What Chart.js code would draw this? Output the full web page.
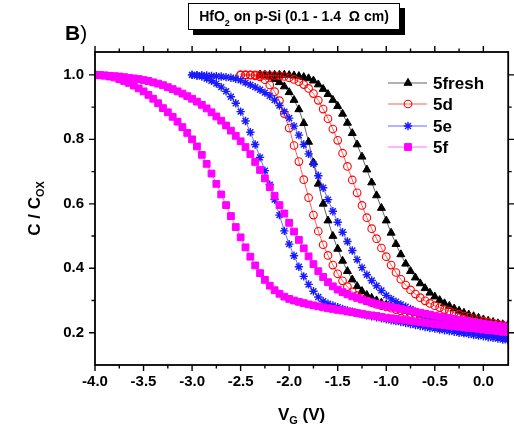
<!DOCTYPE html>
<html><head><meta charset="utf-8">
<script src="https://cdn.jsdelivr.net/npm/chart.js@4"></script>
<style>html,body{margin:0;padding:0;background:#fff}#wrap{width:514px;height:429px;position:relative}</style>
</head><body><div id="wrap"><canvas id="cv"></canvas></div>
<script>
// gate voltage grid (V), 0.05 V steps
const VG = [-4.00,-3.95,-3.90,-3.85,-3.80,-3.75,-3.70,-3.65,-3.60,-3.55,
  -3.50,-3.45,-3.40,-3.35,-3.30,-3.25,-3.20,-3.15,-3.10,-3.05,
  -3.00,-2.95,-2.90,-2.85,-2.80,-2.75,-2.70,-2.65,-2.60,-2.55,
  -2.50,-2.45,-2.40,-2.35,-2.30,-2.25,-2.20,-2.15,-2.10,-2.05,
  -2.00,-1.95,-1.90,-1.85,-1.80,-1.75,-1.70,-1.65,-1.60,-1.55,
  -1.50,-1.45,-1.40,-1.35,-1.30,-1.25,-1.20,-1.15,-1.10,-1.05,
  -1.00,-0.95,-0.90,-0.85,-0.80,-0.75,-0.70,-0.65,-0.60,-0.55,
  -0.50,-0.45,-0.40,-0.35,-0.30,-0.25,-0.20,-0.15,-0.10,-0.05,
  0.00,0.05,0.10,0.15,0.20,0.25];

// C/Cox, left and right branch of each sweep; each list ends at +0.25 V
const fresh_L = [1.000,0.998,0.994,0.987,0.977,0.964,0.946,0.922,0.893,0.850,
  0.792,0.728,0.662,0.600,0.548,0.500,0.460,0.423,0.391,0.365,
  0.344,0.329,0.317,0.308,0.300,0.293,0.287,0.282,0.277,0.272,
  0.268,0.264,0.260,0.256,0.253,0.250,0.247,0.244,0.241,0.238,
  0.235,0.233,0.230,0.228,0.225,0.223,0.221,0.219,0.217,0.215,0.213,0.211];
const fresh_R = [1.000,1.000,1.000,1.000,1.000,1.000,0.999,0.998,0.996,0.993,
  0.989,0.982,0.970,0.956,0.940,0.922,0.903,0.879,0.851,0.819,
  0.784,0.746,0.706,0.666,0.626,0.587,0.548,0.510,0.475,0.443,
  0.414,0.391,0.371,0.353,0.338,0.324,0.312,0.301,0.291,0.283,
  0.275,0.268,0.262,0.256,0.251,0.246,0.241,0.237,0.233,0.229,0.226,0.223];

const d_L = [1.000,1.000,0.999,0.997,0.994,0.985,0.969,0.948,0.920,0.880,
  0.835,0.781,0.731,0.675,0.619,0.565,0.515,0.473,0.440,0.410,
  0.383,0.361,0.343,0.327,0.315,0.306,0.299,0.293,0.288,0.284,
  0.280,0.276,0.272,0.268,0.264,0.260,0.257,0.253,0.250,0.247,
  0.244,0.241,0.238,0.235,0.232,0.230,0.227,0.225,0.222,0.220,
  0.218,0.215,0.213,0.211,0.209,0.207];
const d_R = [1.000,1.000,1.000,1.000,0.999,0.999,0.998,0.998,0.997,0.995,
  0.991,0.986,0.979,0.970,0.958,0.942,0.921,0.894,0.864,0.832,
  0.797,0.757,0.716,0.674,0.634,0.595,0.557,0.523,0.492,0.463,
  0.436,0.410,0.387,0.366,0.348,0.333,0.320,0.309,0.299,0.291,
  0.284,0.278,0.272,0.267,0.262,0.257,0.252,0.248,0.244,0.240,
  0.236,0.233,0.230,0.227,0.224,0.221];

const e_L = [1.000,0.998,0.995,0.989,0.982,0.973,0.962,0.949,0.932,0.912,
  0.886,0.857,0.822,0.784,0.744,0.703,0.659,0.613,0.565,0.516,
  0.475,0.439,0.405,0.375,0.350,0.329,0.311,0.298,0.290,0.285,
  0.279,0.274,0.269,0.265,0.261,0.257,0.254,0.251,0.248,0.245,
  0.242,0.239,0.236,0.233,0.230,0.227,0.224,0.221,0.218,0.215,
  0.213,0.210,0.208,0.205,0.203,0.200,0.198,0.196,0.193,0.191,
  0.189,0.186,0.184,0.182,0.179,0.177];
const e_R = [1.000,0.999,0.999,0.998,0.997,0.996,0.995,0.993,0.991,0.988,
  0.983,0.976,0.969,0.962,0.954,0.945,0.935,0.922,0.905,0.886,
  0.866,0.841,0.813,0.784,0.755,0.724,0.687,0.650,0.613,0.577,
  0.543,0.512,0.483,0.455,0.427,0.402,0.380,0.362,0.346,0.331,
  0.316,0.305,0.296,0.288,0.281,0.274,0.266,0.260,0.254,0.248,
  0.243,0.238,0.233,0.228,0.223,0.218,0.214,0.210,0.207,0.204,
  0.200,0.197,0.194,0.191,0.188,0.185];

const f_L = [1.000,0.999,0.998,0.995,0.992,0.987,0.981,0.975,0.967,0.958,
  0.949,0.938,0.926,0.912,0.897,0.884,0.870,0.855,0.838,0.820,
  0.800,0.778,0.752,0.724,0.694,0.662,0.629,0.596,0.562,0.528,
  0.496,0.465,0.436,0.409,0.385,0.364,0.346,0.332,0.321,0.312,
  0.305,0.300,0.296,0.292,0.288,0.285,0.282,0.279,0.276,0.274,
  0.271,0.269,0.266,0.264,0.261,0.259,0.256,0.254,0.252,0.249,
  0.247,0.245,0.243,0.241,0.239,0.237,0.235,0.233,0.231,0.229,
  0.227,0.225,0.224,0.222,0.220,0.219,0.217,0.215,0.214,0.212,
  0.210,0.208,0.207,0.205,0.203,0.202];
const f_R = [1.000,0.999,0.998,0.997,0.996,0.995,0.993,0.991,0.989,0.987,
  0.984,0.981,0.977,0.973,0.968,0.962,0.956,0.949,0.942,0.934,
  0.926,0.917,0.907,0.896,0.884,0.871,0.858,0.843,0.827,0.811,
  0.794,0.776,0.754,0.730,0.705,0.679,0.652,0.625,0.596,0.570,
  0.541,0.514,0.488,0.462,0.437,0.413,0.391,0.373,0.357,0.344,
  0.334,0.326,0.319,0.313,0.308,0.303,0.298,0.294,0.290,0.286,
  0.283,0.280,0.277,0.274,0.271,0.268,0.265,0.262,0.259,0.256,
  0.253,0.250,0.248,0.245,0.243,0.240,0.238,0.235,0.233,0.231,
  0.228,0.226,0.224,0.222,0.220,0.218];

const NAMES = ['5fresh', '5d', '5e', '5f'];
const X_TICKS = [-4.0, -3.5, -3.0, -2.5, -2.0, -1.5, -1.0, -0.5, 0.0];
const X_MINOR = [-3.75, -3.25, -2.75, -2.25, -1.75, -1.25, -0.75, -0.25];
const Y_TICKS = [0.2, 0.4, 0.6, 0.8, 1.0];
const Y_MINOR = [0.3, 0.5, 0.7, 0.9];

const FONT = '"Liberation Sans", Arial, sans-serif';

function loop(L, R) {
  const xs = VG.slice(VG.length - L.length);
  const up = xs.map((x, i) => ({ x, y: L[i] }));
  const down = xs.map((x, i) => ({ x, y: R[i] })).reverse();
  return up.concat(down);
}

const STYLE = [
  { line: 'rgba(60,60,60,0.8)', bg: '#000', bd: '#000', ps: 'triangle', r: 4.6, bw: 1, order: 3 },
  { line: 'rgba(255,40,40,0.75)', bg: 'rgba(0,0,0,0)', bd: '#ff0000', ps: 'circle', r: 3.8, bw: 1.1, order: 2 },
  { line: 'rgba(40,40,255,0.7)', bg: '#1a1aff', bd: '#1a1aff', ps: 'star', r: 4.2, bw: 1.4, order: 1 },
  { line: 'rgba(255,60,255,0.75)', bg: '#ff00ff', bd: '#ff00ff', ps: 'rect', r: 4.8, bw: 1, order: 0 }
];
const LOOPS = [loop(fresh_L, fresh_R), loop(d_L, d_R), loop(e_L, e_R), loop(f_L, f_R)];

function mark(c, st, x, y) {
  const r = st.r;
  c.fillStyle = st.bg; c.strokeStyle = st.bd; c.lineWidth = st.bw;
  c.beginPath();
  if (st.ps === 'triangle') {
    c.moveTo(x, y - r); c.lineTo(x + r * 0.866, y + r * 0.5); c.lineTo(x - r * 0.866, y + r * 0.5); c.closePath();
    c.fill(); c.stroke();
  } else if (st.ps === 'circle') {
    c.arc(x, y, r, 0, Math.PI * 2); c.stroke();
  } else if (st.ps === 'star') {
    for (let k = 0; k < 4; k++) {
      const a = k * Math.PI / 4;
      c.moveTo(x - r * Math.cos(a), y - r * Math.sin(a)); c.lineTo(x + r * Math.cos(a), y + r * Math.sin(a));
    }
    c.stroke();
  } else {
    const s = r * Math.SQRT1_2;
    c.rect(x - s, y - s, 2 * s, 2 * s); c.fill(); c.stroke();
  }
}

function rich(c, parts, x, y, align) {
  let w = 0;
  parts.forEach(p => { c.font = p.f; w += c.measureText(p.t).width; });
  let cx = align === 'center' ? x - w / 2 : x;
  c.textAlign = 'left'; c.textBaseline = 'alphabetic';
  parts.forEach(p => { c.font = p.f; c.fillText(p.t, cx, y + (p.dy || 0)); cx += c.measureText(p.t).width; });
}

const deco = {
  id: 'deco',
  afterDraw(ch) {
    const c = ch.ctx, a = ch.chartArea, sx = ch.scales.x, sy = ch.scales.y;
    c.save();
    // frame + ticks (outward on all sides)
    c.strokeStyle = '#000'; c.lineWidth = 1.8;
    c.strokeRect(a.left, a.top, a.right - a.left, a.bottom - a.top);
    c.lineWidth = 1.4;
    c.beginPath();
    const xt = (v, len) => { const p = sx.getPixelForValue(v);
      c.moveTo(p, a.bottom); c.lineTo(p, a.bottom + len); c.moveTo(p, a.top); c.lineTo(p, a.top - len); };
    const yt = (v, len) => { const p = sy.getPixelForValue(v);
      c.moveTo(a.left, p); c.lineTo(a.left - len, p); c.moveTo(a.right, p); c.lineTo(a.right + len, p); };
    X_TICKS.forEach(v => xt(v, 6)); X_MINOR.forEach(v => xt(v, 3.5));
    Y_TICKS.forEach(v => yt(v, 6)); Y_MINOR.forEach(v => yt(v, 3.5));
    c.stroke();

    c.fillStyle = '#000';
    // axis titles
    const bf = 'bold 17px ' + FONT, sf = 'bold 11px ' + FONT;
    rich(c, [{ t: 'V', f: bf }, { t: 'G', f: sf, dy: 4 }, { t: ' (V)', f: bf }], (a.left + a.right) / 2, 420, 'center');
    c.save();
    c.translate(40, (a.top + a.bottom) / 2);
    c.rotate(-Math.PI / 2);
    rich(c, [{ t: 'C / C', f: bf }, { t: 'OX', f: sf, dy: 4 }], 0, 0, 'center');
    c.restore();

    // panel letter
    c.font = 'bold 21px ' + FONT; c.textAlign = 'left'; c.textBaseline = 'alphabetic';
    c.fillText('B', 65, 40);
    const bw = c.measureText('B').width;
    c.font = '21px ' + FONT; c.fillText(')', 65 + bw, 40);

    // title box with drop shadow
    c.fillStyle = '#000'; c.fillRect(193, 8, 212, 27);
    c.fillStyle = '#fff'; c.fillRect(188, 3, 212, 27);
    c.strokeStyle = '#000'; c.lineWidth = 1; c.strokeRect(188.5, 3.5, 211, 26);
    c.fillStyle = '#000';
    const tf = 'bold 14px ' + FONT, tsf = 'bold 9px ' + FONT;
    rich(c, [{ t: 'HfO', f: tf }, { t: '2', f: tsf, dy: 5 }, { t: ' on p-Si (0.1 - 1.4  \u03A9 cm)', f: tf }], 294, 21, 'center');

    // legend
    const rows = [83, 104, 126, 147];
    NAMES.forEach((n, i) => {
      const st = STYLE[i], y = rows[i];
      c.strokeStyle = st.line; c.lineWidth = 1.2;
      c.beginPath(); c.moveTo(388, y); c.lineTo(427, y); c.stroke();
      mark(c, st, 408, y);
      c.fillStyle = '#000'; c.font = 'bold 17px ' + FONT; c.textAlign = 'left'; c.textBaseline = 'middle';
      c.fillText(n, 433, y + 1);
    });
    c.restore();
  }
};

const tickFont = { family: FONT, size: 15, weight: 'bold' };

new Chart(document.getElementById('cv'), {
  type: 'scatter',
  plugins: [deco],
  data: {
    datasets: NAMES.map((n, i) => ({
      label: n,
      data: LOOPS[i],
      showLine: true,
      borderColor: STYLE[i].line,
      borderWidth: 1,
      tension: 0,
      fill: false,
      pointStyle: STYLE[i].ps,
      pointRadius: STYLE[i].r,
      pointBackgroundColor: STYLE[i].bg,
      pointBorderColor: STYLE[i].bd,
      pointBorderWidth: STYLE[i].bw,
      order: STYLE[i].order
    }))
  },
  options: {
    responsive: true, maintainAspectRatio: false,
    animation: false, events: [],
    layout: { padding: { left: 0, right: 4, top: 52, bottom: 0 } },
    scales: {
      x: {
        type: 'linear', min: -4, max: 0.256,
        afterBuildTicks: s => { s.ticks = X_TICKS.map(v => ({ value: v })); },
        afterFit: s => { s.height = 64; },
        ticks: { callback: v => v.toFixed(1), color: '#000', font: tickFont, padding: 8, maxRotation: 0, autoSkip: false },
        grid: { display: false, drawTicks: false },
        border: { display: false }
      },
      y: {
        type: 'linear', min: 0.1, max: 1.071,
        afterBuildTicks: s => { s.ticks = Y_TICKS.map(v => ({ value: v })); },
        afterFit: s => { s.width = 95; },
        ticks: { callback: v => v.toFixed(1), color: '#000', font: tickFont, padding: 11, autoSkip: false },
        grid: { display: false, drawTicks: false },
        border: { display: false }
      }
    },
    plugins: { legend: { display: false }, tooltip: { enabled: false } }
  }
});
</script></body></html>
